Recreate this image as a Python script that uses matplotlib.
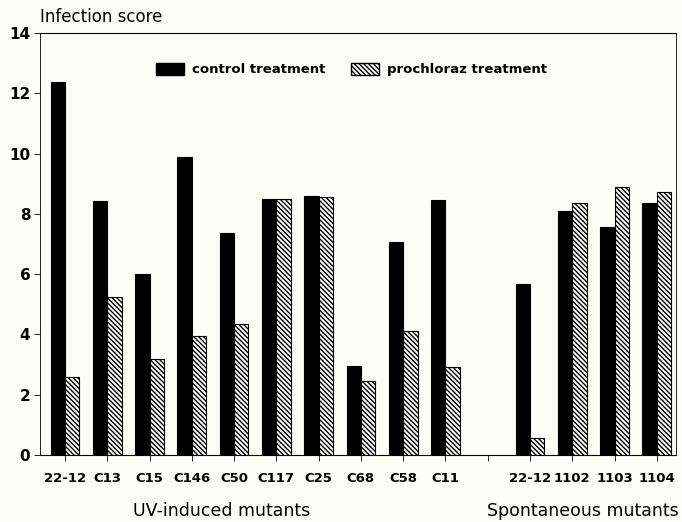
import matplotlib
matplotlib.use("Agg")
import matplotlib.pyplot as plt
import numpy as np
from matplotlib.patches import Patch

uv_labels = ["22-12", "C13", "C15", "C146", "C50", "C117", "C25", "C68", "C58", "C11"]
sp_labels = ["22-12", "1102", "1103", "1104"]
uv_control = [12.37, 8.43, 6.0, 9.9, 7.38, 8.5, 8.59, 2.96, 7.08, 8.46]
uv_prochloraz = [2.6, 5.25, 3.18, 3.95, 4.35, 8.5, 8.57, 2.46, 4.11, 2.92]
sp_control = [5.68, 8.11, 7.55, 8.37]
sp_prochloraz = [0.57, 8.35, 8.88, 8.74]
yticks = [0, 2, 4, 6, 8, 10, 12, 14]

plt.rcParams['font.family'] = ['DejaVu Sans']
plt.rcParams['hatch.linewidth'] = 1.0

HATCH = '\\\\\\\\\\\\\\'

fig = plt.figure(figsize=(6.82, 5.22), dpi=100, facecolor='#fdfdf8')
ax = fig.add_axes([0.0587, 0.1284, 0.9323, 0.8084])
ax.set_facecolor('#fdfdf8')

labels = uv_labels + [""] + sp_labels
control = uv_control + [np.nan] + sp_control
proch = uv_prochloraz + [np.nan] + sp_prochloraz
x = np.arange(len(labels))
w = 0.34

ax.bar(x - w / 2, control, width=w, color='black', edgecolor='black', linewidth=0.8)
ax.bar(x + w / 2, proch, width=w, color='white', edgecolor='black', linewidth=0.8,
       hatch=HATCH)

ax.set_xlim(-0.59, 14.45)
ax.set_ylim(0, 14)
ax.set_yticks(yticks)
ax.set_yticklabels([str(t) for t in yticks], fontsize=11, fontweight='bold')
ax.set_xticks(x)
ax.set_xticklabels(labels, fontsize=9.5, fontweight='bold')
ax.tick_params(axis='x', length=4, width=0.6, pad=8)
ax.tick_params(axis='y', length=4, width=0.6, pad=3)
for s in ax.spines.values():
    s.set_linewidth(0.8)
ax.spines['left'].set_linewidth(0.6)
ax.spines['right'].set_linewidth(0.6)

fig.text(0.059, 0.967, "Infection score", fontsize=12, ha='left', va='center')
fig.text(0.325, 0.022, "UV-induced mutants", fontsize=12.5, ha='center', va='center')
fig.text(0.855, 0.022, "Spontaneous mutants", fontsize=12.5, ha='center', va='center')

handles = [Patch(facecolor='black', edgecolor='black', label='control treatment'),
           Patch(facecolor='white', edgecolor='black', hatch=HATCH, label='prochloraz treatment')]
leg = ax.legend(handles=handles, loc='upper center', bbox_to_anchor=(0.49, 0.958), ncol=2,
                frameon=False, prop={'size': 9.5, 'weight': 'bold'}, handlelength=2.1,
                handleheight=1.1, columnspacing=2.0, handletextpad=0.6)

fig.savefig("out.png", dpi=100, facecolor=fig.get_facecolor())
